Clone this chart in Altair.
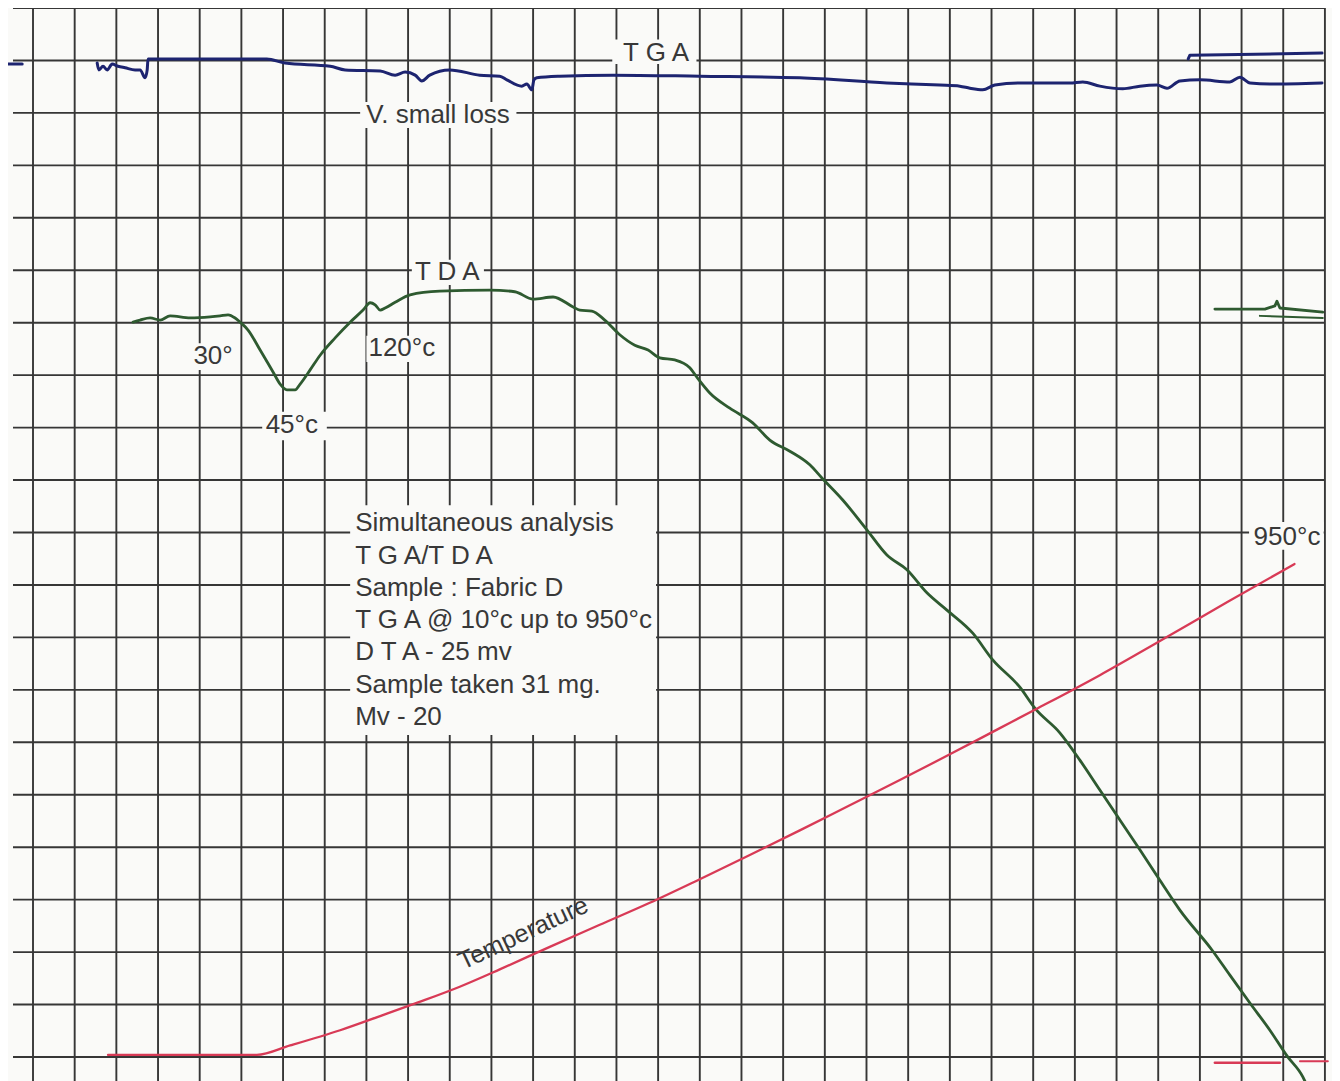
import altair as alt
import pandas as pd

# ---- data (chart-paper divisions: x = vertical grid index, y = horizontal grid index from bottom) ----
grid_x = list(range(0, 32))
grid_y = list(range(0, 21))

tga_x = [1.54, 1.58, 1.68, 1.78, 1.90, 2.04, 2.21, 2.45, 2.57, 2.69, 2.74, 2.76, 4.01, 5.61, 6.05, 7.13,
         7.49, 8.33, 8.69, 8.93, 9.17, 9.33, 9.52, 10.00, 10.72, 11.20, 11.37, 11.73, 11.85, 11.97, 12.02,
         12.09, 12.64, 13.92, 16.00, 18.40, 20.49, 21.76, 22.24, 22.48, 22.79, 23.08, 23.68, 24.88, 25.19,
         25.60, 26.15, 26.56, 26.97, 27.21, 27.52, 28.00, 28.72, 28.96, 29.20, 29.68, 30.93]
tga_y = [18.95, 18.82, 18.89, 18.82, 18.93, 18.89, 18.86, 18.82, 18.82, 18.67, 18.82, 19.03, 19.03, 19.03,
         18.95, 18.89, 18.82, 18.80, 18.72, 18.78, 18.72, 18.61, 18.72, 18.82, 18.72, 18.70, 18.63, 18.51,
         18.55, 18.44, 18.63, 18.67, 18.70, 18.72, 18.70, 18.67, 18.57, 18.53, 18.51, 18.47, 18.44, 18.53,
         18.57, 18.57, 18.59, 18.51, 18.46, 18.51, 18.53, 18.47, 18.61, 18.63, 18.59, 18.68, 18.57, 18.55,
         18.57]
tga_stub_x = [-0.67, -0.26]
tga_stub_y = [18.93, 18.93]
tga_upper_x = [27.72, 27.76, 30.93]
tga_upper_y = [19.03, 19.10, 19.14]

tda_x = [2.40, 2.57, 2.81, 3.05, 3.29, 3.77, 4.25, 4.49, 4.68, 4.85, 4.97, 5.16, 5.45, 5.76, 5.93, 6.09,
         6.29, 6.41, 6.65, 6.89, 7.25, 7.61, 7.92, 8.09, 8.21, 8.33, 8.45, 8.69, 9.05, 9.76, 10.96, 11.56,
         12.00, 12.48, 12.96, 13.12, 13.41, 13.72, 14.08, 14.44, 14.76, 15.04, 15.40, 15.76, 15.93, 16.24,
         16.72, 17.27, 17.68, 18.16, 18.64, 18.93, 19.43, 20.01, 20.49, 20.97, 21.45, 21.93, 22.55, 23.03,
         23.68, 24.04, 24.64, 25.12, 25.60, 26.08, 26.56, 27.04, 27.52, 28.29, 28.72, 29.20, 29.68, 30.09,
         30.47, 30.52]
tda_y = [14.01, 14.05, 14.09, 14.05, 14.13, 14.09, 14.11, 14.13, 14.15, 14.09, 14.01, 13.86, 13.48, 13.06,
         12.83, 12.72, 12.72, 12.83, 13.10, 13.38, 13.71, 14.01, 14.24, 14.38, 14.34, 14.24, 14.28, 14.39,
         14.53, 14.60, 14.62, 14.59, 14.45, 14.49, 14.30, 14.24, 14.22, 14.05, 13.77, 13.57, 13.48, 13.33,
         13.29, 13.14, 12.96, 12.66, 12.37, 12.09, 11.76, 11.55, 11.29, 11.04, 10.62, 10.05, 9.57, 9.29,
         8.85, 8.52, 8.08, 7.57, 7.05, 6.65, 6.18, 5.66, 5.09, 4.52, 3.95, 3.37, 2.80, 2.04, 1.56, 1.03,
         0.51, 0.02, -0.38, -0.46]
tda_tail1_x = [28.36, 29.56, 29.80, 29.85, 29.92, 30.95]
tda_tail1_y = [14.26, 14.26, 14.32, 14.41, 14.28, 14.20]
tda_tail2_x = [29.44, 30.95]
tda_tail2_y = [14.13, 14.09]

temp_x = [1.80, 5.37, 6.17, 7.37, 8.33, 9.24, 10.24, 11.20, 12.40, 13.60, 14.80, 16.00, 17.20, 18.40,
          19.60, 20.80, 22.00, 23.20, 24.04, 25.60, 27.04, 28.67, 30.27]
temp_y = [0.04, 0.04, 0.22, 0.51, 0.78, 1.04, 1.34, 1.67, 2.10, 2.52, 2.94, 3.39, 3.85, 4.32, 4.80,
          5.28, 5.77, 6.27, 6.62, 7.28, 7.93, 8.68, 9.40]
temp_tail1_x = [28.36, 29.92]
temp_tail1_y = [-0.11, -0.11]
temp_tail2_x = [30.40, 31.07]
temp_tail2_y = [-0.08, -0.08]

info_lines = ["Simultaneous analysis", "T G A/T D A", "Sample : Fabric D", "T G A @ 10°c up to 950°c",
              "D T A - 25 mv", "Sample taken 31 mg.", "Mv - 20"]
info_y = [10.18, 9.55, 8.94, 8.33, 7.72, 7.09, 6.48]

labels = ["T G A", "V. small loss", "T D A", "30°", "45°c", "120°c", "950°c"]
label_x = [14.95, 9.72, 9.94, 4.32, 6.21, 8.85, 30.09]
label_y = [19.14, 17.96, 14.97, 13.37, 12.05, 13.52, 9.91]
box_x = [13.90, 7.85, 9.09, 3.80, 5.50, 8.00, 29.18, 7.61]
box_x2 = [15.92, 11.60, 10.82, 4.90, 7.05, 9.72, 30.97, 14.95]
box_y = [18.93, 17.71, 14.72, 13.10, 11.76, 13.25, 9.67, 6.14]
box_y2 = [19.40, 18.21, 15.20, 13.61, 12.30, 13.75, 10.20, 10.52]

# ---- chart ----
BG = "#fafaf8"
XS = alt.Scale(domain=[-0.60, 31.17], nice=False, zero=False)
YS = alt.Scale(domain=[-0.458, 20.0], nice=False, zero=False)
FONT = "Liberation Sans"
TXT = "#383838"


def X(f="x"):
    return alt.X(f"{f}:Q", scale=XS, axis=None)


def Y(f="y"):
    return alt.Y(f"{f}:Q", scale=YS, axis=None)


vgrid = alt.Chart(pd.DataFrame({"x": grid_x, "y": 20.0, "y2": -0.458})).mark_rule(
    color="#363636", strokeWidth=1.9).encode(x=X(), y=Y(), y2="y2:Q")
hgrid = alt.Chart(pd.DataFrame({"y": grid_y, "x": -0.48, "x2": 31.0})).mark_rule(
    color="#363636", strokeWidth=1.9).encode(y=Y(), x=X(), x2="x2:Q")

boxes = alt.Chart(pd.DataFrame({"x": box_x, "x2": box_x2, "y": box_y, "y2": box_y2})).mark_rect(
    color=BG).encode(x=X(), x2="x2:Q", y=Y(), y2="y2:Q")


def line(xs, ys, color, width, interp="monotone"):
    df = pd.DataFrame({"x": xs, "y": ys, "i": list(range(len(xs)))})
    return alt.Chart(df).mark_line(color=color, strokeWidth=width, strokeJoin="round",
                                   strokeCap="round", interpolate=interp).encode(
        x=X(), y=Y(), order="i:Q")


TGA_C = "#1d2470"
TDA_C = "#2e5a30"
TMP_C = "#d83a56"

curves = [
    line(tga_stub_x, tga_stub_y, TGA_C, 3, "linear"),
    line(tga_x, tga_y, TGA_C, 3),
    line(tga_upper_x, tga_upper_y, TGA_C, 3, "linear"),
    line(tda_x, tda_y, TDA_C, 2.8),
    line(tda_tail1_x, tda_tail1_y, TDA_C, 2.8, "linear"),
    line(tda_tail2_x, tda_tail2_y, TDA_C, 2.0, "linear"),
    line(temp_x, temp_y, TMP_C, 2.3),
    line(temp_tail1_x, temp_tail1_y, TMP_C, 2.6, "linear"),
    line(temp_tail2_x, temp_tail2_y, TMP_C, 2.0, "linear"),
]

lab = alt.Chart(pd.DataFrame({"x": label_x, "y": label_y, "t": labels})).mark_text(
    font=FONT, fontSize=26, color=TXT, align="center", baseline="middle").encode(
    x=X(), y=Y(), text="t:N")

info = alt.Chart(pd.DataFrame({"x": 7.73, "y": info_y, "t": info_lines})).mark_text(
    font=FONT, fontSize=26, color=TXT, align="left", baseline="middle").encode(
    x=X(), y=Y(), text="t:N")

temp_lab = alt.Chart(pd.DataFrame({"x": [11.76], "y": [2.36], "t": ["Temperature"]})).mark_text(
    font=FONT, fontSize=25, color=TXT, align="center", baseline="middle", angle=335).encode(
    x=X(), y=Y(), text="t:N")

chart = alt.layer(vgrid, hgrid, boxes, *curves, lab, info, temp_lab).properties(
    width=1324, height=1073, background=BG, padding=0,
    autosize=alt.AutoSizeParams(type="none"),
).configure_view(stroke=None)

chart.save("out.html", embed_options={"renderer": "svg", "actions": False})
